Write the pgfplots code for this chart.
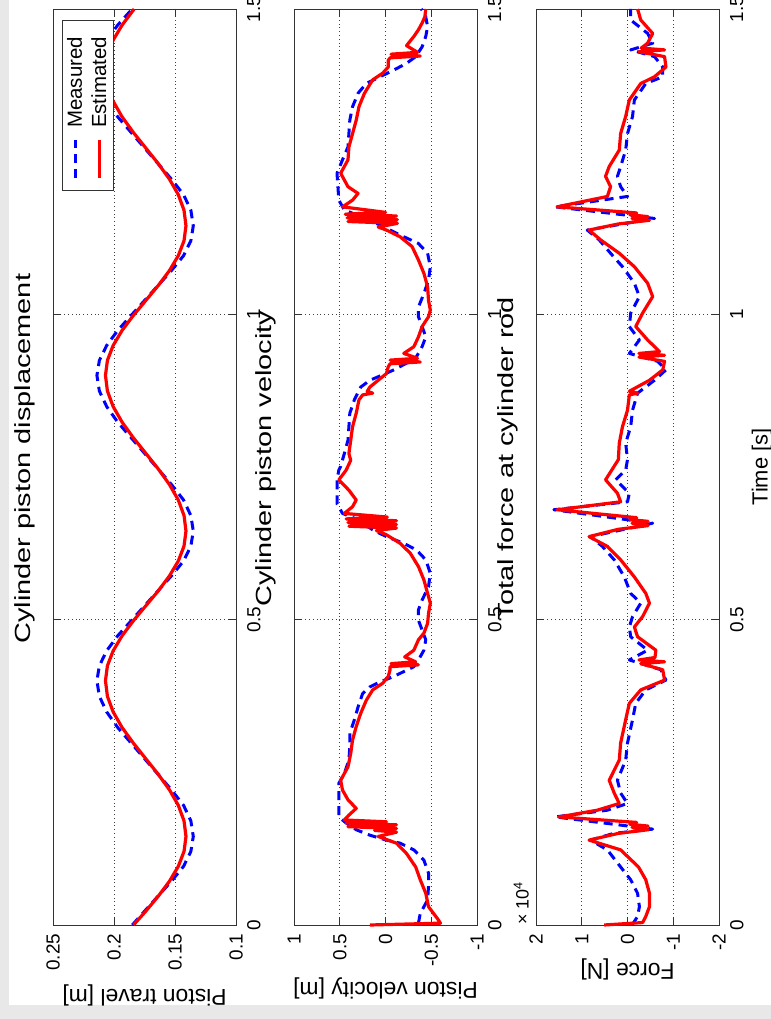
\documentclass[border=0pt]{standalone}
\usepackage{fontspec}
\setmainfont{Liberation Sans}
\newfontfamily\titlefont[FakeStretch=1.32]{Liberation Sans}
\usepackage{pgfplots}
\pgfplotsset{compat=1.18}
\tikzset{
  meas/.style={blue, line width=3bp, dash pattern=on 9bp off 6bp, line join=round},
  est/.style={red, line width=3.2bp, line join=round},
}
\pgfplotsset{
  panel/.style={
    scale only axis, width=183bp, height=916bp, anchor=south west,
    ymin=0, ymax=1.5, ytick={0,0.5,1,1.5}, yticklabels={0,0.5,1,1.5},
    x dir=reverse, clip=false,
    tick pos=both, tick align=inside, major tick length=8bp,
    xticklabel pos=left, yticklabel pos=right,
    xticklabel style={rotate=90, anchor=east, inner xsep=8.5bp, inner ysep=0pt, font=\fontsize{19}{19}\selectfont},
    yticklabel style={rotate=90, anchor=north, inner ysep=11bp, inner xsep=0pt, font=\fontsize{19}{19}\selectfont},
    grid=major, grid style={black!75, line width=0.7bp, dash pattern=on 0.8bp off 3bp},
    axis line style={black!80, line width=0.9bp},
    every tick/.style={black!80, line width=0.9bp},
  },
}
\begin{document}
\begin{tikzpicture}
\fill[black!9] (0,0) rectangle (771bp,1019bp);
\fill[white] (9bp,14bp) rectangle (771bp,1019bp);

% ---------- Panel 1: displacement ----------
\begin{axis}[panel, at={(53bp,94bp)},
  xmin=0.1, xmax=0.25, xtick={0.1,0.15,0.2,0.25}, xticklabels={0.1,0.15,0.2,0.25}]
\addplot[meas] coordinates {
(0.185,0) (0.175,0.0225) (0.164,0.047) (0.153,0.0715) (0.143,0.096) (0.137,0.1205) (0.135,0.145)
(0.137,0.1705) (0.143,0.196) (0.153,0.2215) (0.164,0.247) (0.175,0.2725) (0.186,0.298) (0.197,0.3235) (0.206,0.349) (0.212,0.3745) (0.214,0.40)
(0.212,0.4245) (0.206,0.449) (0.197,0.4735) (0.186,0.498) (0.175,0.5225) (0.164,0.547) (0.153,0.5715) (0.143,0.596) (0.137,0.6205) (0.135,0.645)
(0.137,0.6705) (0.143,0.696) (0.153,0.7215) (0.164,0.747) (0.175,0.7725) (0.186,0.798) (0.197,0.8235) (0.206,0.849) (0.212,0.8745) (0.214,0.90)
(0.212,0.9245) (0.206,0.949) (0.197,0.9735) (0.186,0.998) (0.175,1.0225) (0.164,1.047) (0.153,1.0715) (0.143,1.096) (0.137,1.1205) (0.135,1.145)
(0.137,1.1705) (0.143,1.196) (0.153,1.2215) (0.164,1.247) (0.175,1.2725) (0.186,1.298) (0.197,1.3235) (0.206,1.349) (0.212,1.3745) (0.214,1.40)
(0.212,1.4245) (0.206,1.449) (0.197,1.4735) (0.186,1.498) (0.185,1.5)
};
\addplot[est] coordinates {
(0.184,0) (0.174,0.0225) (0.1638,0.047) (0.1546,0.0715) (0.1473,0.096) (0.1426,0.1205) (0.141,0.145)
(0.1426,0.1705) (0.1473,0.196) (0.1546,0.2215) (0.1638,0.247) (0.174,0.2725) (0.1842,0.298) (0.1934,0.3235) (0.2007,0.349) (0.2054,0.3745) (0.207,0.40)
(0.2054,0.4245) (0.2007,0.449) (0.1934,0.4735) (0.1842,0.498) (0.174,0.5225) (0.1638,0.547) (0.1546,0.5715) (0.1473,0.596) (0.1426,0.6205) (0.141,0.645)
(0.1426,0.6705) (0.1473,0.696) (0.1546,0.7215) (0.1638,0.747) (0.174,0.7725) (0.1842,0.798) (0.1934,0.8235) (0.2007,0.849) (0.2054,0.8745) (0.207,0.90)
(0.2054,0.9245) (0.2007,0.949) (0.1934,0.9735) (0.1842,0.998) (0.174,1.0225) (0.1638,1.047) (0.1546,1.0715) (0.1473,1.096) (0.1426,1.1205) (0.141,1.145)
(0.1426,1.1705) (0.1473,1.196) (0.1546,1.2215) (0.1638,1.247) (0.174,1.2725) (0.1842,1.298) (0.1934,1.3235) (0.2007,1.349) (0.2054,1.3745) (0.207,1.40)
(0.2054,1.4245) (0.2007,1.449) (0.1934,1.4735) (0.1842,1.498) (0.1835,1.5)
};
% legend (rotated with the figure)
\draw[black!80, line width=0.8bp, fill=white] (axis description cs:0.049,0.802) rectangle (axis description cs:0.328,0.988);
\draw[meas] (axis description cs:0.121,0.8155) -- (axis description cs:0.121,0.857);
\draw[est] (axis description cs:0.252,0.8155) -- (axis description cs:0.252,0.857);
\node[rotate=90, anchor=base west, inner sep=0pt, font=\fontsize{20.5}{20.5}\selectfont] at (axis description cs:0.158,0.870) {Measured};
\node[rotate=90, anchor=base west, inner sep=0pt, font=\fontsize{20.5}{20.5}\selectfont] at (axis description cs:0.290,0.870) {Estimated};
\node[rotate=90, font=\titlefont\fontsize{22}{22}\selectfont] at (axis description cs:-0.154,0.509) {Cylinder piston displacement};
\node[rotate=180, font=\fontsize{23}{23}\selectfont] at (axis description cs:0.5,-0.077) {Piston travel [m]};
\end{axis}

% ---------- Panel 2: velocity ----------
\begin{axis}[panel, at={(294bp,94bp)},
  xmin=-1, xmax=1, xtick={-1,-0.5,0,0.5,1}, xticklabels={-1,-0.5,0,0.5,1}]
\addplot[meas] coordinates {
(-0.36,0.003) (-0.38,0.019) (-0.46,0.041) (-0.47,0.063) (-0.47,0.085) (-0.42,0.106) (-0.31,0.123) (-0.16,0.134) (-0.01,0.139) (0.17,0.147) (0.32,0.156) (0.43,0.167) (0.51,0.177) (0.51,0.194) (0.51,0.216) (0.51,0.232) (0.45,0.248) (0.40,0.270) (0.39,0.292) (0.39,0.314) (0.34,0.336) (0.30,0.357) (0.25,0.379) (0.17,0.390) (0.06,0.398) (-0.09,0.407) (-0.20,0.415) (-0.31,0.423) (-0.36,0.434) (-0.42,0.450) (-0.44,0.467) (-0.40,0.483) (-0.36,0.499) (-0.36,0.516) (-0.40,0.532) (-0.47,0.554) (-0.49,0.576) (-0.44,0.598) (-0.34,0.614) (-0.20,0.625) (-0.01,0.636) (0.14,0.647) (0.29,0.663) (0.47,0.674) (0.53,0.690) (0.53,0.707) (0.53,0.729) (0.51,0.745) (0.49,0.751) (0.45,0.772) (0.41,0.794) (0.40,0.816) (0.39,0.838) (0.34,0.860) (0.27,0.881) (0.17,0.892) (0.03,0.901) (-0.09,0.909) (-0.23,0.920) (-0.34,0.931) (-0.40,0.947) (-0.44,0.963) (-0.40,0.980) (-0.36,0.996) (-0.36,1.012) (-0.42,1.034) (-0.47,1.056) (-0.49,1.078) (-0.46,1.100) (-0.36,1.116) (-0.20,1.127) (-0.05,1.138) (0.10,1.149) (0.27,1.160) (0.45,1.171) (0.51,1.187) (0.52,1.209) (0.53,1.231) (0.47,1.253) (0.41,1.274) (0.40,1.296) (0.39,1.318) (0.36,1.340) (0.30,1.362) (0.21,1.378) (0.06,1.389) (-0.09,1.400) (-0.23,1.411) (-0.33,1.422) (-0.40,1.438) (-0.44,1.455) (-0.46,1.471) (-0.44,1.487) (-0.40,1.498) (-0.39,1.5)
};
\addplot[est] coordinates {
(0.17,0.000) (-0.60,0.003) (-0.57,0.010) (-0.47,0.030) (-0.44,0.052) (-0.38,0.074) (-0.33,0.095) (-0.23,0.117) (-0.12,0.134) (0.08,0.145) (-0.12,0.152) (0.12,0.155) (-0.12,0.158) (0.41,0.161) (-0.12,0.164) (0.43,0.167) (-0.01,0.169) (0.45,0.172) (0.40,0.180) (0.32,0.191) (0.41,0.205) (0.47,0.221) (0.49,0.237) (0.41,0.259) (0.38,0.281) (0.36,0.303) (0.32,0.325) (0.27,0.347) (0.21,0.368) (0.14,0.385) (0.03,0.396) (-0.03,0.407) (-0.05,0.418) (-0.05,0.423) (-0.36,0.426) (-0.06,0.428) (-0.33,0.431) (-0.21,0.439) (-0.31,0.450) (-0.36,0.467) (-0.42,0.478) (-0.46,0.494) (-0.47,0.510) (-0.49,0.527) (-0.46,0.543) (-0.42,0.565) (-0.36,0.587) (-0.27,0.609) (-0.16,0.625) (-0.01,0.639) (0.10,0.646) (-0.12,0.650) (0.40,0.653) (-0.12,0.656) (0.41,0.659) (-0.12,0.662) (0.43,0.665) (-0.02,0.668) (0.45,0.674) (0.36,0.685) (0.32,0.696) (0.40,0.712) (0.51,0.729) (0.43,0.745) (0.38,0.761) (0.40,0.772) (0.38,0.794) (0.36,0.816) (0.32,0.838) (0.29,0.860) (0.25,0.868) (0.14,0.871) (0.20,0.874) (0.17,0.881) (0.08,0.892) (-0.01,0.903) (-0.03,0.914) (-0.05,0.919) (-0.38,0.922) (-0.05,0.925) (-0.35,0.928) (-0.20,0.936) (-0.31,0.947) (-0.36,0.963) (-0.40,0.980) (-0.47,0.996) (-0.49,1.007) (-0.47,1.023) (-0.46,1.045) (-0.42,1.067) (-0.36,1.089) (-0.29,1.111) (-0.16,1.127) (-0.01,1.138) (0.08,1.143) (-0.13,1.149) (0.41,1.152) (-0.13,1.155) (0.42,1.158) (-0.12,1.161) (0.44,1.164) (0.00,1.167) (0.47,1.176) (0.36,1.187) (0.30,1.198) (0.41,1.209) (0.49,1.231) (0.41,1.253) (0.40,1.274) (0.36,1.296) (0.32,1.318) (0.29,1.340) (0.23,1.362) (0.14,1.384) (0.03,1.395) (-0.03,1.405) (-0.03,1.416) (-0.05,1.420) (-0.38,1.423) (-0.06,1.426) (-0.35,1.429) (-0.23,1.440) (-0.31,1.455) (-0.36,1.466) (-0.40,1.477) (-0.43,1.487) (-0.44,1.5)
};
\node[rotate=90, font=\titlefont\fontsize{22}{22}\selectfont] at (axis description cs:-0.154,0.509) {Cylinder piston velocity};
\node[rotate=180, font=\fontsize{23}{23}\selectfont] at (axis description cs:0.5,-0.069) {Piston velocity [m]};
\end{axis}

% ---------- Panel 3: force ----------
\begin{axis}[panel, at={(536bp,94bp)},
  xmin=-2, xmax=2, xtick={-2,-1,0,1,2}, xticklabels={-2,-1,0,1,2}]
\addplot[meas] coordinates {
(-0.10,0.000) (-0.22,0.014) (-0.26,0.030) (-0.22,0.052) (-0.07,0.074) (0.15,0.095) (0.44,0.123) (0.81,0.139) (0.30,0.150) (-0.55,0.157) (1.58,0.177) (0.44,0.188) (0.00,0.199) (0.15,0.216) (0.22,0.237) (0.04,0.270) (0.00,0.298) (-0.11,0.336) (-0.18,0.363) (-0.40,0.385) (-0.84,0.401) (-0.73,0.418) (-0.04,0.434) (-0.44,0.450) (-0.07,0.472) (-0.04,0.488) (-0.11,0.505) (-0.29,0.527) (-0.07,0.543) (0.07,0.570) (0.29,0.598) (0.55,0.620) (0.81,0.636) (-0.55,0.658) (1.61,0.680) (0.00,0.693) (-0.04,0.707) (0.26,0.729) (0.04,0.745) (0.00,0.762) (0.04,0.789) (-0.07,0.816) (-0.11,0.843) (-0.22,0.871) (-0.59,0.892) (-0.84,0.909) (-0.66,0.923) (-0.04,0.936) (-0.26,0.958) (-0.04,0.980) (-0.07,1.002) (-0.26,1.029) (-0.15,1.051) (0.11,1.078) (0.37,1.100) (0.62,1.122) (0.88,1.138) (-0.59,1.157) (1.58,1.176) (0.00,1.193) (0.15,1.209) (0.22,1.226) (0.15,1.242) (0.04,1.269) (0.00,1.296) (-0.11,1.324) (-0.15,1.351) (-0.40,1.378) (-0.77,1.389) (-0.77,1.405) (-0.59,1.422) (-0.07,1.433) (-0.55,1.444) (-0.44,1.460) (-0.07,1.482) (-0.07,1.5)
};
\addplot[est] coordinates {
(0.51,0.000) (-0.33,0.004) (-0.40,0.014) (-0.48,0.030) (-0.48,0.052) (-0.40,0.074) (-0.24,0.095) (0.15,0.123) (0.84,0.139) (0.20,0.150) (-0.45,0.156) (-0.10,0.160) (-0.45,0.162) (-0.05,0.165) (-0.20,0.168) (1.50,0.177) (0.66,0.188) (0.18,0.199) (0.29,0.216) (0.40,0.237) (0.18,0.270) (0.15,0.298) (0.04,0.336) (-0.04,0.363) (-0.29,0.385) (-0.81,0.401) (-0.77,0.418) (-0.29,0.428) (-0.81,0.431) (-0.25,0.434) (-0.60,0.438) (-0.62,0.450) (-0.22,0.472) (-0.15,0.488) (-0.33,0.505) (-0.48,0.527) (-0.40,0.543) (-0.15,0.570) (0.15,0.598) (0.44,0.620) (0.84,0.636) (0.20,0.648) (-0.45,0.654) (-0.10,0.658) (-0.45,0.661) (-0.05,0.664) (-0.20,0.667) (1.54,0.680) (0.15,0.693) (0.22,0.707) (0.48,0.729) (0.20,0.762) (0.18,0.789) (0.11,0.816) (0.00,0.843) (-0.04,0.868) (-0.22,0.871) (-0.04,0.874) (-0.48,0.892) (-0.77,0.909) (-0.81,0.923) (-0.25,0.930) (-0.81,0.933) (-0.25,0.936) (-0.70,0.939) (-0.44,0.958) (-0.18,0.980) (-0.33,1.002) (-0.55,1.029) (-0.44,1.051) (-0.15,1.078) (0.18,1.100) (0.59,1.122) (0.84,1.138) (0.20,1.148) (-0.48,1.154) (-0.10,1.157) (-0.45,1.160) (-0.05,1.163) (-0.20,1.166) (1.54,1.176) (0.44,1.193) (0.37,1.209) (0.48,1.226) (0.40,1.242) (0.18,1.269) (0.15,1.296) (0.04,1.324) (-0.04,1.351) (-0.29,1.378) (-0.59,1.389) (-0.84,1.405) (-0.81,1.422) (-0.25,1.430) (-0.81,1.433) (-0.30,1.436) (-0.44,1.444) (-0.55,1.460) (-0.29,1.482) (-0.22,1.5)
};
\node[rotate=90, font=\titlefont\fontsize{22}{22}\selectfont] at (axis description cs:-0.154,0.509) {Total force at cylinder rod};
\node[rotate=180, font=\fontsize{23}{23}\selectfont] at (axis description cs:0.5,-0.049) {Force [N]};
\node[rotate=90, anchor=south west, inner sep=0pt, font=\fontsize{18}{18}\selectfont] at (axis description cs:-0.038,0) {× 10\textsuperscript{4}};
\node[rotate=90, font=\fontsize{22}{22}\selectfont] at (axis description cs:1.235,0.5) {Time [s]};
\end{axis}

\pgfresetboundingbox
\path[use as bounding box] (0,0) rectangle (771bp,1019bp);
\end{tikzpicture}
\end{document}
